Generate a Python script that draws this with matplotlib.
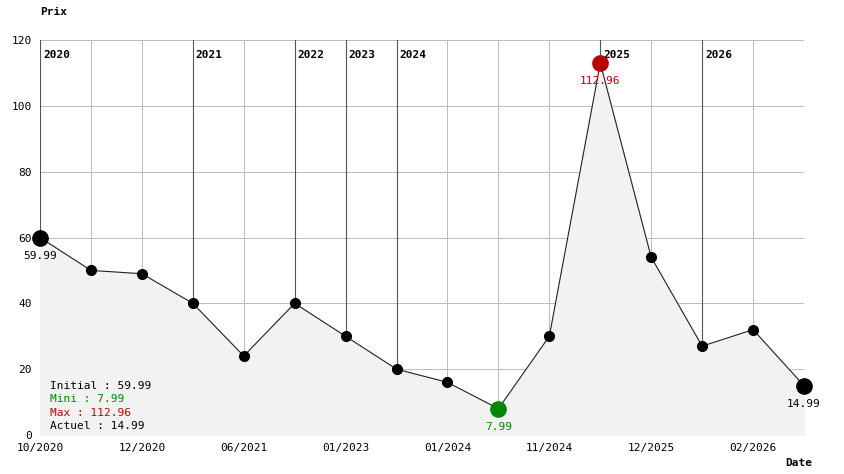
import matplotlib
matplotlib.use("Agg")
import matplotlib.pyplot as plt

values = [59.99, 50, 49, 40, 24, 40, 30, 20, 16, 7.99, 30, 112.96, 54, 27, 32, 14.99]
tick_idx = [0, 2, 4, 6, 8, 10, 12, 14]
tick_labels = ["10/2020", "12/2020", "06/2021", "01/2023", "01/2024", "11/2024", "12/2025", "02/2026"]
year_idx = [0, 3, 5, 6, 7, 11, 13]
year_labels = ["2020", "2021", "2022", "2023", "2024", "2025", "2026"]

plt.rcParams['font.family'] = ['DejaVu Sans Mono']
fig = plt.figure(figsize=(8.44, 4.74), dpi=100)
ax = fig.add_axes([40/844, 1-435/474, (804-40)/844, (435-40)/474])
x = list(range(len(values)))
ax.set_xlim(0, len(values)-1)
ax.set_ylim(0, 120)
ax.set_yticks(range(0, 121, 20))
ax.set_xticks(tick_idx)
ax.set_xticklabels(tick_labels)
ax.tick_params(labelsize=8, length=0, pad=6)
for i in x:
    ax.axvline(i, color="#bbbbbb", lw=0.7, zorder=0)
for y in range(20, 121, 20):
    ax.axhline(y, color="#bbbbbb", lw=0.7, zorder=0)
for i, lab in zip(year_idx, year_labels):
    ax.axvline(i, color="#555555", lw=0.8, zorder=1)
    ax.text(i+0.06, 117, lab, fontsize=8, fontweight="bold", va="top")
ax.fill_between(x, values, color="#f2f2f2", zorder=1)
ax.plot(x, values, color="#222222", lw=0.8, zorder=2)
imin = values.index(min(values)); imax = values.index(max(values))
for i, v in enumerate(values):
    if i == imin:
        c, s = "#008800", 11
    elif i == imax:
        c, s = "#bb0000", 11
    elif i in (0, len(values)-1):
        c, s = "black", 11
    else:
        c, s = "black", 7
    ax.plot(i, v, "o", color=c, ms=s, zorder=3, clip_on=False)
ax.text(0, values[0]-4, f"{values[0]:.2f}", fontsize=8, ha="center", va="top")
ax.text(imin, values[imin]-4, f"{values[imin]:.2f}", fontsize=8, ha="center", va="top", color="#008800")
ax.text(imax, values[imax]-4, f"{values[imax]:.2f}", fontsize=8, ha="center", va="top", color="#cc0000")
n = len(values)-1
ax.text(n, values[n]-4, f"{values[n]:.2f}", fontsize=8, ha="center", va="top")
for k, (t, c) in enumerate([(f"Initial : {values[0]:.2f}", "black"), (f"Mini : {values[imin]:.2f}", "#008800"),
                             (f"Max : {values[imax]:.2f}", "#cc0000"), (f"Actuel : {values[n]:.2f}", "black")]):
    ax.text(0.2, 15 - k*4.1, t, fontsize=8, color=c, va="center")
for sp in ax.spines.values():
    sp.set_visible(False)
fig.text(40/844, 1-12/474, "Prix", fontsize=8, fontweight="bold", va="center")
fig.text(812/844, 1-463/474, "Date", fontsize=8, fontweight="bold", ha="right", va="center")
fig.savefig("out.png", dpi=100)
